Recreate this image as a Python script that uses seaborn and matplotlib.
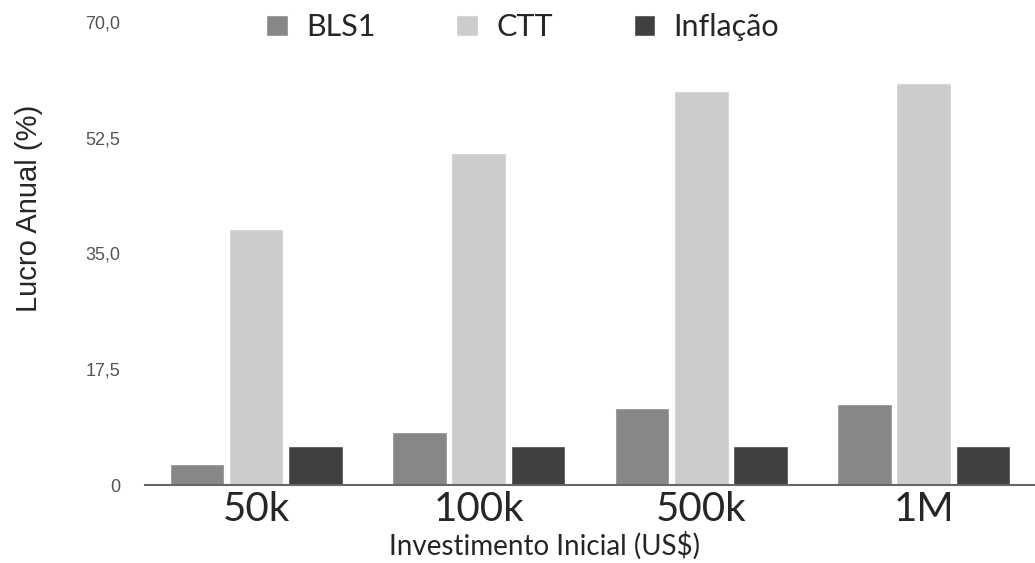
import pandas as pd
import matplotlib
matplotlib.use("Agg")
import matplotlib.pyplot as plt
import seaborn as sns

# valores
investimentos = ["50k", "100k", "500k", "1M"]
bls1 = [3.2, 8.0, 11.6, 12.3]
ctt = [38.7, 50.2, 59.6, 60.8]
inflacao = [5.9, 5.9, 5.9, 5.9]
series = ["BLS1", "CTT", "Inflação"]
cores = ["#878787", "#cbcdcb", "#404040"]
yticks = [0, 17.5, 35.0, 52.5, 70.0]
ytick_labels = ["0", "17,5", "35,0", "52,5", "70,0"]

df = pd.DataFrame({
    "Investimento": investimentos * 3,
    "Serie": [series[0]] * 4 + [series[1]] * 4 + [series[2]] * 4,
    "Lucro": bls1 + ctt + inflacao,
})

sns.set_style("white")
fig = plt.figure(figsize=(10.35, 5.63), dpi=100)
ax = fig.add_axes([0.140, 0.1385, 0.860, 0.8225])

sns.barplot(data=df, x="Investimento", y="Lucro", hue="Serie",
            palette=cores, width=0.8, gap=0.08, ax=ax, saturation=1)

ax.set_xlim(-0.5, 3.5)
ax.set_ylim(0, 70)
ax.set_yticks(yticks)
ax.set_yticklabels(ytick_labels, fontsize=13, color="#555555", family="Liberation Sans")
ax.tick_params(axis="y", length=0, pad=18)
ax.tick_params(axis="x", length=0, pad=4)
for lab in ax.get_xticklabels():
    lab.set_fontsize(29)
    lab.set_family("Lato")

for s in ["top", "right", "left"]:
    ax.spines[s].set_visible(False)
ax.spines["bottom"].set_color("#666666")
ax.spines["bottom"].set_linewidth(1.5)
ax.spines["bottom"].set_zorder(5)

ax.set_xlabel("Investimento Inicial (US$)", fontsize=20, family="Lato", labelpad=0)
ax.xaxis.set_label_coords(0.449, -0.1)
ax.set_ylabel("Lucro Anual (%)", fontsize=21, family="Liberation Sans")
ax.yaxis.set_label_coords(-0.115, 0.598)

ax.legend(loc="upper center", bbox_to_anchor=(0.505, 1.025), bbox_transform=fig.transFigure,
          ncol=3, frameon=False, prop={"family": "Lato", "size": 22},
          handlelength=0.7, handleheight=0.7, handletextpad=0.6, columnspacing=2.65)

fig.savefig("out.png", dpi=100)
